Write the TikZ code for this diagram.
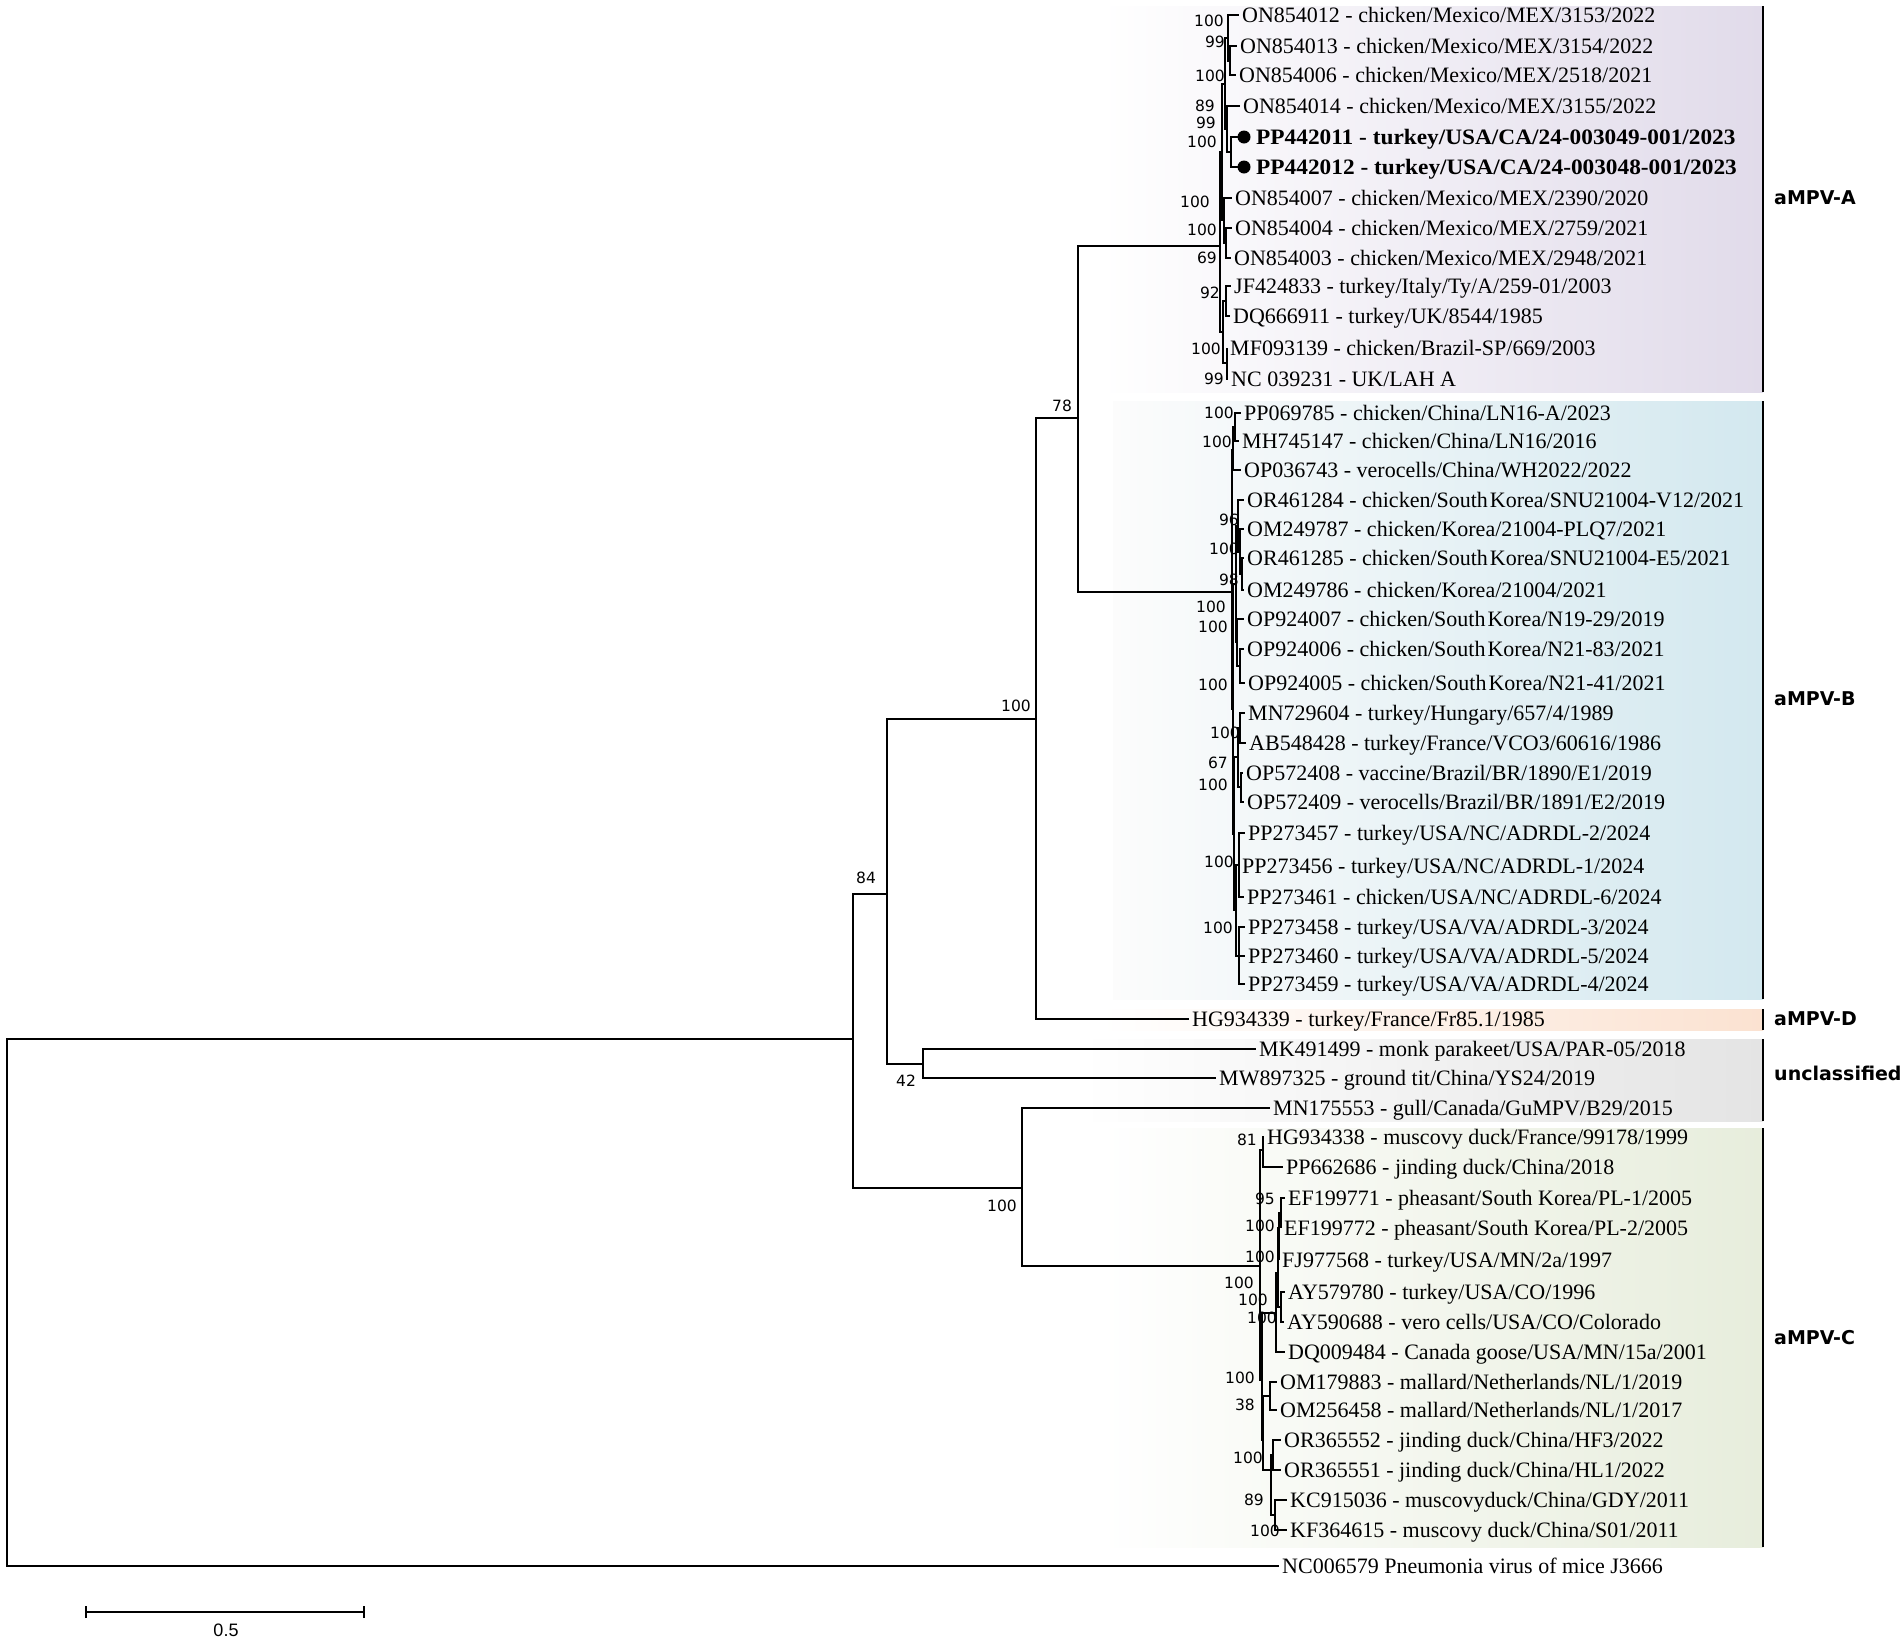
\documentclass[tikz,border=0pt]{standalone}
\usepackage{fontspec}
\usepackage{graphicx}
\setmainfont{Liberation Serif}
\newfontfamily\bsfont{DejaVu Sans}
\newfontfamily\scfont{Liberation Sans}
\definecolor{cA}{RGB}{225,219,234}
\definecolor{cB}{RGB}{211,232,239}
\definecolor{cD}{RGB}{251,226,209}
\definecolor{cU}{RGB}{228,228,228}
\definecolor{cC}{RGB}{231,237,220}
\definecolor{cL}{RGB}{252,252,252}
\newcommand\tedge[2]{\draw[br] (#1) |- (#2);}
\begin{document}
\begin{tikzpicture}[x=1pt,y=-1pt,
 br/.style={line width=1.8pt},
 leaf/.style={anchor=west, inner xsep=3pt, inner ysep=0pt, text height=14.6pt, text depth=0pt, font=\fontsize{22}{26}\selectfont},
 bs/.style={anchor=east, inner sep=0pt, text height=11.3pt, text depth=0pt, font=\bsfont\fontsize{15.5}{18}\selectfont},
 bsc/.style={bs, anchor=center},
 clade/.style={anchor=west, inner sep=0pt, text height=13.8pt, text depth=0pt, font=\bsfont\bfseries\fontsize{19}{22}\selectfont},
 bar/.style={line width=2.5pt}]
\useasboundingbox (0,0) rectangle (1902,1642);
\fill[white] (0,0) rectangle (1902,1642);

% clade backgrounds
\shade[left color=white, right color=cA] (1100,6) rectangle (1763,392);
\shade[left color=cL, right color=cB] (1113,401) rectangle (1763,999);
\shade[left color=white, right color=cD] (1100,1009) rectangle (1763,1030);
\shade[left color=white, right color=cU] (1080,1039) rectangle (1763,1121);
\shade[left color=white, right color=cC] (1100,1128) rectangle (1763,1547);

% clade bars and names
\draw[bar] (1763,6) -- (1763,392);
\draw[bar] (1763,401) -- (1763,999);
\draw[bar] (1763,1009) -- (1763,1030);
\draw[bar] (1763,1039) -- (1763,1121);
\draw[bar] (1763,1128) -- (1763,1547);
\node[clade] (nA) at (1774,198) {aMPV-A};
\node[clade] (nB) at (1774,699) {aMPV-B};
\node[clade] (nD) at (1774,1019) {aMPV-D};
\node[clade] (nU) at (1774,1074) {unclassified};
\node[clade] (nC) at (1774,1338) {aMPV-C};

% internal nodes
\coordinate (R) at (7,1303);
\coordinate (n1) at (853,1039);
\coordinate (n2) at (887,894);
\coordinate (n3) at (1036,719);
\coordinate (n4) at (1078,418);
\coordinate (n5) at (923,1064);
\coordinate (n6) at (1022,1188);
\coordinate (Ar) at (1220,246);
\coordinate (Br) at (1232,592);
\coordinate (Cr) at (1260,1266);
% A
\coordinate (A1) at (1222,152);
\coordinate (A1a) at (1225,84);
\coordinate (A1a1) at (1228,38);
\coordinate (A1a1b) at (1230,61);
\coordinate (A1a2) at (1227,129);
\coordinate (A1a2b) at (1231,152);
\coordinate (A1b) at (1224,220);
\coordinate (A1b2) at (1226,243);
\coordinate (A2) at (1223,332);
\coordinate (A2a) at (1226,301);
\coordinate (A2b) at (1227,363);
\coordinate (b1) at (1244,137);
\coordinate (b2) at (1244,167);
% B
\coordinate (B1) at (1233,450);
\coordinate (B1a) at (1235,427);
\coordinate (B2) at (1233,709);
\coordinate (B2a) at (1236,584);
\coordinate (B2a1) at (1238,526);
\coordinate (B2a1b) at (1240,552);
\coordinate (B2a1c) at (1242,574);
\coordinate (B2a2) at (1237,642);
\coordinate (B2a2b) at (1240,666);
\coordinate (B2b) at (1234,834);
\coordinate (B2b1) at (1238,757);
\coordinate (B2b1a) at (1240,728);
\coordinate (B2b1b) at (1241,787);
\coordinate (B2b2) at (1236,910);
\coordinate (B2b2a) at (1239,865);
\coordinate (B2b2b) at (1239,956);
% C
\coordinate (C1) at (1263,1150);
\coordinate (C2) at (1262,1380);
\coordinate (C2a) at (1276,1313);
\coordinate (C2a1) at (1278,1273);
\coordinate (C2a1a) at (1279,1228);
\coordinate (C2a1a1) at (1281,1213);
\coordinate (C2a1b) at (1281,1307);
\coordinate (C2b) at (1263,1440);
\coordinate (C2b1) at (1270,1396);
\coordinate (C2b2) at (1271,1470);
\coordinate (C2b2a) at (1273,1455);
\coordinate (C2b2b) at (1275,1515);

% leaves A
\node[leaf] (ON854012) at (1239,15) {ON854012 - chicken/Mexico/MEX/3153/2022};
\node[leaf] (ON854013) at (1237,46) {ON854013 - chicken/Mexico/MEX/3154/2022};
\node[leaf] (ON854006) at (1236,75) {ON854006 - chicken/Mexico/MEX/2518/2021};
\node[leaf] (ON854014) at (1240,106) {ON854014 - chicken/Mexico/MEX/3155/2022};
\node[leaf] (PP442011) at (1253,137) {\scalebox{1.06}[1]{\bfseries PP442011 - turkey/USA/CA/24-003049-001/2023}};
\node[leaf] (PP442012) at (1253,167) {\scalebox{1.06}[1]{\bfseries PP442012 - turkey/USA/CA/24-003048-001/2023}};
\node[leaf] (ON854007) at (1232,198) {ON854007 - chicken/Mexico/MEX/2390/2020};
\node[leaf] (ON854004) at (1232,228) {ON854004 - chicken/Mexico/MEX/2759/2021};
\node[leaf] (ON854003) at (1231,258) {ON854003 - chicken/Mexico/MEX/2948/2021};
\node[leaf] (JF424833) at (1231,286) {JF424833 - turkey/Italy/Ty/A/259-01/2003};
\node[leaf] (DQ666911) at (1230,316) {DQ666911 - turkey/UK/8544/1985};
\node[leaf] (MF093139) at (1227,348) {MF093139 - chicken/Brazil-SP/669/2003};
\node[leaf] (NC039231) at (1228,379) {NC 039231 - UK/LAH A};
% leaves B
\node[leaf] (PP069785) at (1241,413) {PP069785 - chicken/China/LN16-A/2023};
\node[leaf] (MH745147) at (1239,441) {MH745147 - chicken/China/LN16/2016};
\node[leaf] (OP036743) at (1241,470) {OP036743 - verocells/China/WH2022/2022};
\node[leaf] (OR461284) at (1244,500) {OR461284 - chicken/South\hspace{2pt}Korea/SNU21004-V12/2021};
\node[leaf] (OM249787) at (1244,529) {OM249787 - chicken/Korea/21004-PLQ7/2021};
\node[leaf] (OR461285) at (1244,558) {OR461285 - chicken/South\hspace{2pt}Korea/SNU21004-E5/2021};
\node[leaf] (OM249786) at (1244,590) {OM249786 - chicken/Korea/21004/2021};
\node[leaf] (OP924007) at (1244,619) {OP924007 - chicken/South\hspace{2pt}Korea/N19-29/2019};
\node[leaf] (OP924006) at (1244,649) {OP924006 - chicken/South\hspace{2pt}Korea/N21-83/2021};
\node[leaf] (OP924005) at (1245,683) {OP924005 - chicken/South\hspace{2pt}Korea/N21-41/2021};
\node[leaf] (MN729604) at (1245,713) {MN729604 - turkey/Hungary/657/4/1989};
\node[leaf] (AB548428) at (1246,743) {AB548428 - turkey/France/VCO3/60616/1986};
\node[leaf] (OP572408) at (1243,773) {OP572408 - vaccine/Brazil/BR/1890/E1/2019};
\node[leaf] (OP572409) at (1244,802) {OP572409 - verocells/Brazil/BR/1891/E2/2019};
\node[leaf] (PP273457) at (1245,833) {PP273457 - turkey/USA/NC/ADRDL-2/2024};
\node[leaf] (PP273456) at (1239,866) {PP273456 - turkey/USA/NC/ADRDL-1/2024};
\node[leaf] (PP273461) at (1244,897) {PP273461 - chicken/USA/NC/ADRDL-6/2024};
\node[leaf] (PP273458) at (1245,927) {PP273458 - turkey/USA/VA/ADRDL-3/2024};
\node[leaf] (PP273460) at (1245,956) {PP273460 - turkey/USA/VA/ADRDL-5/2024};
\node[leaf] (PP273459) at (1245,984) {PP273459 - turkey/USA/VA/ADRDL-4/2024};
% D and unclassified
\node[leaf] (HG934339) at (1189,1019) {HG934339 - turkey/France/Fr85.1/1985};
\node[leaf] (MK491499) at (1256,1049) {MK491499 - monk parakeet/USA/PAR-05/2018};
\node[leaf] (MW897325) at (1216,1078) {MW897325 - ground tit/China/YS24/2019};
\node[leaf] (MN175553) at (1270,1108) {MN175553 - gull/Canada/GuMPV/B29/2015};
% leaves C
\node[leaf] (HG934338) at (1264,1137) {HG934338 - muscovy duck/France/99178/1999};
\node[leaf] (PP662686) at (1283,1167) {PP662686 - jinding duck/China/2018};
\node[leaf] (EF199771) at (1285,1198) {EF199771 - pheasant/South Korea/PL-1/2005};
\node[leaf] (EF199772) at (1281,1228) {EF199772 - pheasant/South Korea/PL-2/2005};
\node[leaf] (FJ977568) at (1279,1260) {FJ977568 - turkey/USA/MN/2a/1997};
\node[leaf] (AY579780) at (1285,1292) {AY579780 - turkey/USA/CO/1996};
\node[leaf] (AY590688) at (1284,1322) {AY590688 - vero cells/USA/CO/Colorado};
\node[leaf] (DQ009484) at (1285,1352) {DQ009484 - Canada goose/USA/MN/15a/2001};
\node[leaf] (OM179883) at (1277,1382) {OM179883 - mallard/Netherlands/NL/1/2019};
\node[leaf] (OM256458) at (1277,1410) {OM256458 - mallard/Netherlands/NL/1/2017};
\node[leaf] (OR365552) at (1281,1440) {OR365552 - jinding duck/China/HF3/2022};
\node[leaf] (OR365551) at (1281,1470) {OR365551 - jinding duck/China/HL1/2022};
\node[leaf] (KC915036) at (1287,1500) {KC915036 - muscovyduck/China/GDY/2011};
\node[leaf] (KF364615) at (1287,1530) {KF364615 - muscovy duck/China/S01/2011};
\node[leaf] (NC006579) at (1279,1566) {NC006579 Pneumonia virus of mice J3666};

% branches: backbone
\tedge{R}{n1} \tedge{R}{NC006579.west}
\tedge{n1}{n2} \tedge{n1}{n6}
\tedge{n2}{n3} \tedge{n2}{n5}
\tedge{n3}{n4} \tedge{n3}{HG934339.west}
\tedge{n4}{Ar} \tedge{n4}{Br}
\tedge{n5}{MK491499.west} \tedge{n5}{MW897325.west}
\tedge{n6}{MN175553.west} \tedge{n6}{Cr}
% A
\tedge{Ar}{A1} \tedge{Ar}{A2}
\tedge{A1}{A1a} \tedge{A1}{A1b}
\tedge{A1a}{A1a1} \tedge{A1a}{A1a2}
\tedge{A1a1}{ON854012.west} \tedge{A1a1}{A1a1b}
\tedge{A1a1b}{ON854013.west} \tedge{A1a1b}{ON854006.west}
\tedge{A1a2}{ON854014.west} \tedge{A1a2}{A1a2b}
\tedge{A1a2b}{b1} \tedge{A1a2b}{b2}
\tedge{A1b}{ON854007.west} \tedge{A1b}{A1b2}
\tedge{A1b2}{ON854004.west} \tedge{A1b2}{ON854003.west}
\tedge{A2}{A2a} \tedge{A2}{A2b}
\tedge{A2a}{JF424833.west} \tedge{A2a}{DQ666911.west}
\tedge{A2b}{MF093139.west} \tedge{A2b}{NC039231.west}
\fill (b1) circle[radius=6.5];
\fill (b2) circle[radius=6.5];
% B
\tedge{Br}{B1} \tedge{Br}{B2}
\tedge{B1}{B1a} \tedge{B1}{OP036743.west}
\tedge{B1a}{PP069785.west} \tedge{B1a}{MH745147.west}
\tedge{B2}{B2a} \tedge{B2}{B2b}
\tedge{B2a}{B2a1} \tedge{B2a}{B2a2}
\tedge{B2a1}{OR461284.west} \tedge{B2a1}{B2a1b}
\tedge{B2a1b}{OM249787.west} \tedge{B2a1b}{B2a1c}
\tedge{B2a1c}{OR461285.west} \tedge{B2a1c}{OM249786.west}
\tedge{B2a2}{OP924007.west} \tedge{B2a2}{B2a2b}
\tedge{B2a2b}{OP924006.west} \tedge{B2a2b}{OP924005.west}
\tedge{B2b}{B2b1} \tedge{B2b}{B2b2}
\tedge{B2b1}{B2b1a} \tedge{B2b1}{B2b1b}
\tedge{B2b1a}{MN729604.west} \tedge{B2b1a}{AB548428.west}
\tedge{B2b1b}{OP572408.west} \tedge{B2b1b}{OP572409.west}
\tedge{B2b2}{B2b2a} \tedge{B2b2}{B2b2b}
\tedge{B2b2a}{PP273457.west} \tedge{B2b2a}{PP273456.west} \tedge{B2b2a}{PP273461.west}
\tedge{B2b2b}{PP273458.west} \tedge{B2b2b}{PP273460.west} \tedge{B2b2b}{PP273459.west}
% C
\tedge{Cr}{C1} \tedge{Cr}{C2}
\tedge{C1}{HG934338.west} \tedge{C1}{PP662686.west}
\tedge{C2}{C2a} \tedge{C2}{C2b}
\tedge{C2a}{C2a1} \tedge{C2a}{DQ009484.west}
\tedge{C2a1}{C2a1a} \tedge{C2a1}{C2a1b}
\tedge{C2a1a}{C2a1a1} \tedge{C2a1a}{FJ977568.west}
\tedge{C2a1a1}{EF199771.west} \tedge{C2a1a1}{EF199772.west}
\tedge{C2a1b}{AY579780.west} \tedge{C2a1b}{AY590688.west}
\tedge{C2b}{C2b1} \tedge{C2b}{C2b2}
\tedge{C2b1}{OM179883.west} \tedge{C2b1}{OM256458.west}
\tedge{C2b2}{C2b2a} \tedge{C2b2}{C2b2b}
\tedge{C2b2a}{OR365552.west} \tedge{C2b2a}{OR365551.west}
\tedge{C2b2b}{KC915036.west} \tedge{C2b2b}{KF364615.west}

% bootstrap values: backbone
\node[bsc] (s84) at (866,878) {84};
\node[bsc] (s100a) at (1016,706) {100};
\node[bsc] (s78) at (1062,406) {78};
\node[bsc] (s42) at (906,1081) {42};
\node[bsc] (s100b) at (1002,1206) {100};
% A
\node[bs] (sA1) at (1224,21) {100};
\node[bs] (sA2) at (1225,42) {99};
\node[bs] (sA3) at (1225,76) {100};
\node[bs] (sA4) at (1215,106) {89};
\node[bs] (sA5) at (1216,123) {99};
\node[bs] (sA6) at (1217,142) {100};
\node[bs] (sA7) at (1210,202) {100};
\node[bs] (sA8) at (1217,230) {100};
\node[bs] (sA9) at (1217,258) {69};
\node[bs] (sA10) at (1220,293) {92};
\node[bs] (sA11) at (1221,349) {100};
\node[bs] (sA12) at (1224,379) {99};
% B
\node[bs] (sB1) at (1234,413) {100};
\node[bs] (sB2) at (1232,442) {100};
\node[bs] (sB3) at (1239,520) {96};
\node[bs] (sB4) at (1239,549) {100};
\node[bs] (sB5) at (1239,580) {98};
\node[bs] (sB6) at (1226,607) {100};
\node[bs] (sB7) at (1228,627) {100};
\node[bs] (sB8) at (1228,685) {100};
\node[bs] (sB9) at (1240,733) {100};
\node[bs] (sB10) at (1228,763) {67};
\node[bs] (sB11) at (1228,785) {100};
\node[bs] (sB12) at (1234,862) {100};
\node[bs] (sB13) at (1233,928) {100};
% C
\node[bs] (sC1) at (1257,1140) {81};
\node[bs] (sC2) at (1275,1199) {95};
\node[bs] (sC3) at (1275,1226) {100};
\node[bs] (sC4) at (1275,1257) {100};
\node[bs] (sC5) at (1254,1283) {100};
\node[bs] (sC6) at (1268,1300) {100};
\node[bs] (sC7) at (1277,1318) {100};
\node[bs] (sC8) at (1255,1378) {100};
\node[bs] (sC9) at (1255,1405) {38};
\node[bs] (sC10) at (1263,1458) {100};
\node[bs] (sC11) at (1264,1500) {89};
\node[bs] (sC12) at (1280,1531) {100};

% scale bar
\coordinate (sbL) at (86,1612);
\coordinate (sbR) at (364,1612);
\draw[br] (sbL) -- (sbR);
\draw[br] ([yshift=-6pt]sbL) -- ([yshift=6pt]sbL);
\draw[br] ([yshift=-6pt]sbR) -- ([yshift=6pt]sbR);
\node[font=\scfont\fontsize{18}{22}\selectfont, inner sep=0pt] (sblab) at (226,1630) {0.5};
\end{tikzpicture}
\end{document}
